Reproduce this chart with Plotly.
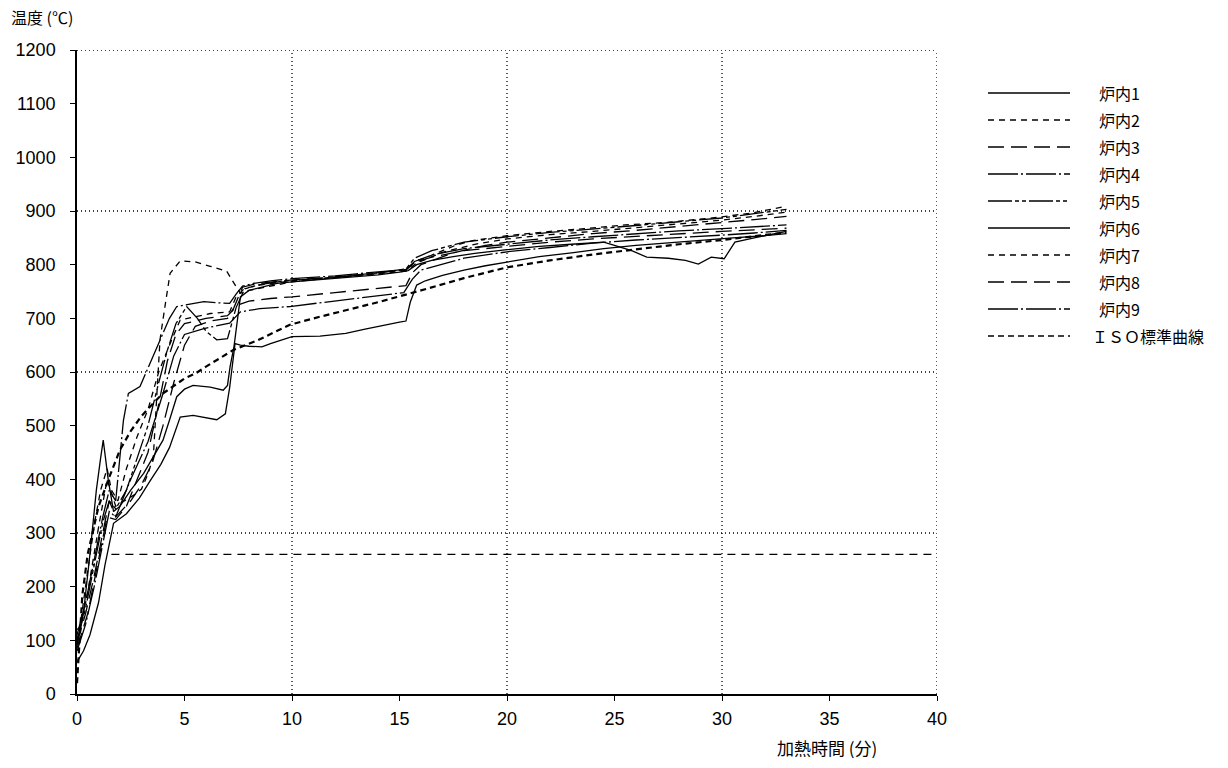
import plotly.graph_objects as go

# ---- furnace temperature records (time in minutes, temperature in °C) ----
t_1 = [0, 0.3, 0.6, 0.9, 1.1, 1.22, 1.45, 1.7, 2.0, 2.5, 3.1, 3.6, 4.0, 4.3, 4.64, 5.0, 5.4, 6.2, 6.8,
       7.0, 7.12, 7.3, 7.6, 8.0, 8.6, 9.3, 10, 11, 12, 13, 14, 15, 15.4, 15.8, 16.5, 17.5, 18.5, 20,
       21.5, 23, 24.5, 25.8, 26.5, 27.5, 28.3, 28.9, 29.5, 30.1, 30.6, 31.5, 32.3, 33]
T_1 = [90, 150, 260, 380, 440, 473, 400, 340, 350, 380, 411, 445, 473, 510, 554, 568, 575, 572, 566,
       575, 610, 647, 740, 752, 758, 765, 768, 771, 774, 777, 781, 786, 789, 800, 808, 815, 821, 828,
       834, 838, 842, 826, 814, 812, 808, 801, 814, 811, 842, 850, 856, 862]

t_2 = [0, 0.5, 1.0, 1.4, 1.8, 2.2, 2.7, 3.0, 3.3, 3.55, 3.86, 4.09, 4.33, 4.8, 5.5, 6.2, 6.96, 7.4,
       7.6, 8.0, 9.0, 10, 12, 14, 15.3, 15.8, 16.1, 17.6, 18.4, 20, 22, 23.6, 25.5, 27.5, 30, 31.5, 33]
T_2 = [100, 190, 310, 400, 350, 360, 372, 382, 410, 442, 660, 722, 784, 807, 805, 797, 788, 759,
       747, 752, 760, 768, 776, 784, 790, 808, 811, 836, 845, 854, 862, 867, 874, 879, 889, 897, 909]

t_3 = [0, 0.5, 1.0, 1.4, 1.8, 2.3, 2.8, 3.3, 3.8, 4.2, 4.6, 5.0, 6.0, 7.0, 7.5, 8.0, 9.0, 10, 12,
       14, 15.3, 15.6, 16.0, 17.5, 19, 20, 22, 24, 26, 28, 30, 31.5, 33]
T_3 = [85, 150, 250, 330, 325, 350, 400, 450, 540, 620, 670, 690, 700, 705, 725, 732, 737, 740, 748,
       756, 761, 785, 800, 822, 836, 842, 850, 858, 864, 871, 878, 884, 890]

t_4 = [0, 0.4, 0.8, 1.2, 1.5, 1.8, 2.16, 2.39, 2.93, 3.4, 3.86, 4.3, 4.64, 5.2, 5.9, 6.5, 7.1, 7.4,
       7.7, 8.2, 9, 10, 11, 12, 13, 14, 15.3, 15.7, 16.5, 18, 20, 22, 24, 26, 28, 30, 31.5, 33]
T_4 = [110, 170, 250, 330, 380, 360, 510, 560, 573, 617, 660, 700, 722, 726, 731, 729, 728, 745,
       760, 765, 770, 774, 776, 779, 783, 786, 791, 806, 818, 830, 838, 846, 852, 858, 863, 867, 870, 874]

t_5 = [0, 0.4, 0.8, 1.2, 1.5, 1.8, 2.3, 2.8, 3.3, 3.8, 4.2, 4.6, 5.1, 5.6, 6.0, 6.5, 7.0, 7.4, 7.8,
       8.5, 9.5, 10.5, 12, 13.5, 15.3, 15.7, 16.5, 18, 20, 22, 24, 26, 28, 30, 31.5, 33]
T_5 = [100, 160, 240, 320, 360, 345, 380, 440, 500, 580, 640, 690, 722, 700, 676, 660, 662, 720, 755,
       763, 769, 772, 776, 782, 792, 812, 826, 842, 852, 860, 866, 873, 880, 887, 895, 903]

t_6 = [0, 0.3, 0.6, 1.0, 1.3, 1.7, 2.3, 2.9, 3.4, 3.9, 4.3, 4.8, 5.4, 6.0, 6.5, 6.9, 7.1, 7.35, 7.6,
       8.0, 8.6, 9.0, 10, 11.3, 12.5, 13.4, 14.3, 15.0, 15.3, 15.5, 15.8, 16.2, 17, 18, 19, 20, 21.5,
       23, 24.5, 26, 27.5, 29, 30.5, 32, 33]
T_6 = [60, 80, 110, 170, 240, 318, 336, 365, 397, 428, 459, 516, 519, 514, 511, 522, 571, 653, 650,
       648, 647, 653, 666, 667, 672, 680, 688, 693, 695, 730, 762, 770, 780, 790, 798, 805, 815,
       822, 830, 836, 841, 846, 850, 854, 858]

t_7 = [0, 0.14, 0.5, 0.84, 1.1, 1.4, 1.6, 1.9, 2.3, 2.8, 3.3, 3.8, 4.3, 4.8, 5.5, 6.2, 7.1, 7.4, 7.8,
       8.5, 10, 12, 14, 15.3, 15.8, 17, 18.5, 20, 22, 24, 26, 28, 30, 31.5, 33]
T_7 = [120, 125, 230, 324, 380, 420, 380, 360, 420, 480, 530, 600, 650, 697, 703, 709, 712, 740, 756,
       762, 770, 776, 783, 788, 803, 823, 838, 848, 856, 862, 869, 876, 883, 890, 898]

t_8 = [0, 0.4, 0.8, 1.2, 1.5, 1.8, 2.5, 3.0, 3.5, 4.0, 4.5, 5.0, 5.5, 6.2, 7.0, 7.3, 7.7, 8.3, 9.5,
       10.5, 12, 13.5, 15.3, 15.7, 16.5, 18, 20, 22, 24, 26, 28, 30, 31.5, 33]
T_8 = [95, 150, 220, 300, 360, 330, 360, 390, 430, 500, 580, 650, 685, 695, 700, 720, 758, 764, 770,
       773, 777, 783, 790, 804, 814, 826, 834, 842, 848, 853, 858, 862, 865, 868]

t_9 = [0, 0.4, 0.8, 1.2, 1.5, 1.8, 2.5, 3.3, 4.0, 4.5, 5.0, 5.9, 7.1, 7.6, 8.5, 9.9, 12, 14, 15.2,
       15.6, 16.0, 18, 20, 22, 24, 26, 28, 30, 31.5, 33]
T_9 = [80, 130, 200, 280, 340, 330, 400, 470, 560, 630, 670, 681, 691, 712, 718, 722, 732, 742, 748,
       773, 790, 812, 824, 832, 840, 846, 850, 855, 859, 864]

# ISO standard heating curve as plotted
t_iso = [0, 0.25, 0.5, 1, 1.5, 2, 2.5, 3, 3.55, 4, 5, 5.5, 6, 7.27, 8.4, 9.9, 11.3, 12, 14, 16, 18,
         20, 22, 24, 26, 28, 30, 33]
T_iso = [20, 185, 261, 349, 404, 455, 490, 518, 542, 560, 588, 597, 610, 641, 659, 688, 703, 710,
         730, 752, 775, 795, 808, 819, 829, 838, 846, 860]

# horizontal reference level
ref_t = [1.6, 40]
ref_T = [260, 260]

series_names = ["炉内1", "炉内2", "炉内3", "炉内4", "炉内5", "炉内6", "炉内7", "炉内8", "炉内9", "ＩＳＯ標準曲線"]
series_t = [t_1, t_2, t_3, t_4, t_5, t_6, t_7, t_8, t_9, t_iso]
series_T = [T_1, T_2, T_3, T_4, T_5, T_6, T_7, T_8, T_9, T_iso]

# line styles: (dash pattern, width)
styles = [
    ("solid", 1.3),
    ("6px,5px", 1.3),
    ("16px,7px", 1.3),
    ("30px,3px,2px,3px", 1.3),
    ("24px,3px,4px,3px,4px,3px", 1.3),
    ("solid", 1.3),
    ("6px,5px", 1.3),
    ("16px,7px", 1.3),
    ("30px,3px,2px,3px", 1.3),
    ("6px,4px", 2.2),
]

fig = go.Figure()

for name, tx, ty, (dash, w) in zip(series_names, series_t, series_T, styles):
    fig.add_trace(go.Scatter(x=tx, y=ty, mode="lines", name=name, showlegend=False,
                             line=dict(color="black", width=w, dash=dash)))

fig.add_trace(go.Scatter(x=ref_t, y=ref_T, mode="lines", showlegend=False,
                         line=dict(color="black", width=1.2, dash="8px,6px")))

# dotted grid (every 10 min / every 300 °C), including the top and right frame
shapes = []
for gy in [300, 600, 900, 1200]:
    shapes.append(dict(type="line", xref="x", yref="y", x0=0, x1=40, y0=gy, y1=gy,
                       line=dict(color="#000", width=1.3, dash="1px,3px"), layer="below"))
for gx in [10, 20, 30, 40]:
    shapes.append(dict(type="line", xref="x", yref="y", x0=gx, x1=gx, y0=0, y1=1200,
                       line=dict(color="#000", width=1.3, dash="1px,3px"), layer="below"))

# legend drawn at the right of the plot area
W, H = 1228, 768
L, R, T, B = 77, 291, 50, 74
pw, ph = W - L - R, H - T - B


def px_x(px):
    return (px - L) / pw


def px_y(py):
    return (H - B - py) / ph


annotations = []
for i, (name, (dash, w)) in enumerate(zip(series_names, styles)):
    yy = px_y(93 + 27 * i)
    shapes.append(dict(type="line", xref="paper", yref="paper", x0=px_x(988), x1=px_x(1070),
                       y0=yy, y1=yy, line=dict(color="black", width=min(w, 1.6), dash=dash)))
    annotations.append(dict(xref="paper", yref="paper", x=px_x(1097 if i < 9 else 1090), y=yy,
                            text=name, showarrow=False, xanchor="left", yanchor="middle",
                            font=dict(family="Noto Sans CJK JP", size=16, color="black")))

annotations.append(dict(xref="paper", yref="paper", x=px_x(9), y=px_y(17), text="温度 (℃)",
                        showarrow=False, xanchor="left", yanchor="middle",
                        font=dict(family="Noto Sans CJK JP", size=16, color="black")))
annotations.append(dict(xref="paper", yref="paper", x=px_x(827), y=px_y(747), text="加熱時間 (分)",
                        showarrow=False, xanchor="center", yanchor="middle",
                        font=dict(family="Noto Sans CJK JP", size=17, color="black")))

fig.update_layout(
    width=W, height=H,
    margin=dict(l=L, r=R, t=T, b=B),
    paper_bgcolor="white", plot_bgcolor="white",
    showlegend=False,
    shapes=shapes,
    annotations=annotations,
    xaxis=dict(range=[0, 40], dtick=5, tick0=0, showgrid=False, zeroline=False,
               showline=True, linecolor="black", linewidth=1.5,
               ticks="outside", ticklen=5, tickwidth=1.2, tickcolor="black",
               ticklabelstandoff=3,
               tickfont=dict(family="Liberation Sans", size=18, color="black")),
    yaxis=dict(range=[0, 1200], dtick=100, tick0=0, showgrid=False, zeroline=False,
               showline=True, linecolor="black", linewidth=1.5,
               ticks="outside", ticklen=5, tickwidth=1.2, tickcolor="black",
               ticklabelstandoff=11,
               tickfont=dict(family="Liberation Sans", size=18, color="black")),
)

fig.write_html("out.html")
